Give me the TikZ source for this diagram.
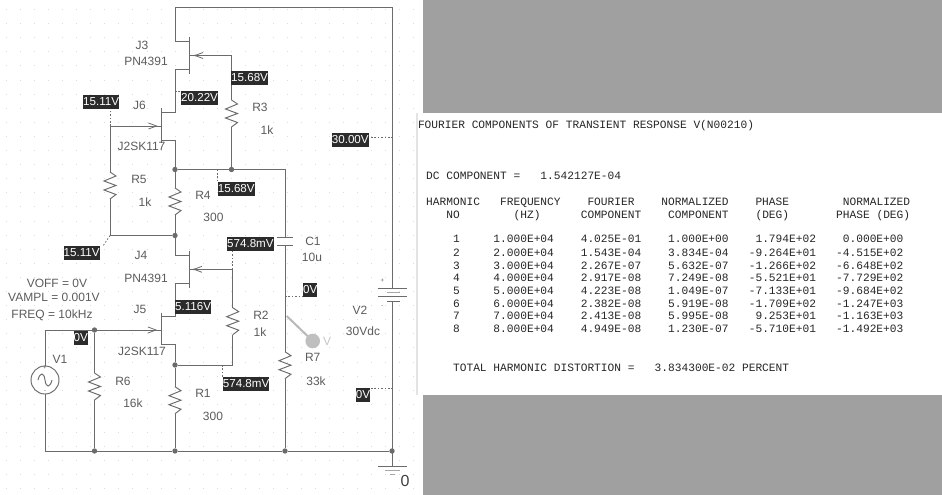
\documentclass[tikz,border=0pt]{standalone}
\usepackage{fontspec}
\setmainfont{Liberation Sans}
\newfontfamily\tblfont{Liberation Mono}
\definecolor{wirecol}{gray}{0.42}
\definecolor{txtcol}{gray}{0.36}
\definecolor{boxcol}{gray}{0.17}
\definecolor{panelcol}{RGB}{160,160,160}
\tikzset{
  wire/.style={draw=wirecol,line width=0.95pt},
  probeline/.style={draw=wirecol,line width=0.8pt,dash pattern=on 1.6pt off 1.8pt},
  lab/.style={text=txtcol,font=\fontsize{12}{12}\selectfont,inner sep=0pt},
  volt/.style={fill=boxcol,text=white,font=\fontsize{11.6}{12}\selectfont,inner sep=0pt,
    minimum height=13.6pt,anchor=north west},
  junction/.style={circle,fill=wirecol,inner sep=0pt,minimum size=5.4pt},
  tbl/.style={font=\tblfont\fontsize{11.2}{12}\selectfont,text=black!85,inner sep=0pt,anchor=base west},
  res/.pic={\draw[wire] (0,0)--(6,4)--(-6,9)--(6,13.5)--(-6,18)--(6,22.5)--(0,27);},
  gateR/.pic={\draw[wire,line width=0.8pt] (-8,-3)--(0,0)--(-8,3);},
  gateL/.pic={\draw[wire,line width=0.8pt] (8,-3)--(0,0)--(8,3);\fill[wirecol] (0,0) circle (1pt);}
}
\begin{document}
\begin{tikzpicture}[x=1pt,y=-1pt]
\useasboundingbox (0,0) rectangle (942,495);
\fill[white] (0,0) rectangle (942,495);
% panels
\fill[panelcol] (423,0) rectangle (942,113);
\fill[panelcol] (423,395) rectangle (942,495);
\draw[gray!22,line width=1.2pt] (417,113)--(417,395);
% grid dots
\foreach \i in {0,...,29}{\foreach \j in {0,...,34}{
  \fill[gray!28] ({6+14.05*\i},{9+14.1*\j}) rectangle +(1,1);
}}
% coordinates
\coordinate (topL) at (175,7.5);
\coordinate (topR) at (392,7.5);
\coordinate (j3d) at (175,41);
\coordinate (j3dg) at (189,41);
\coordinate (j3s) at (175,69.5);
\coordinate (j3sg) at (189,69.5);
\coordinate (j3g) at (189,55.5);
\coordinate (j3t) at (189,37);
\coordinate (j3b) at (189,74);
\coordinate (j6d) at (175,112);
\coordinate (j6dg) at (161,112);
\coordinate (j6s) at (175,140);
\coordinate (j6sg) at (161,140);
\coordinate (j6g) at (161,126);
\coordinate (j6t) at (161,108);
\coordinate (j6b) at (161,143);
\coordinate (gn6) at (110,126);
\coordinate (r3t) at (231.5,55.5);
\coordinate (r3a) at (231.5,100);
\coordinate (r3b) at (231.5,127);
\coordinate (c1in) at (285,169.5);
\coordinate (r4a) at (175,188);
\coordinate (r4b) at (175,215);
\coordinate (r5a) at (110,172);
\coordinate (r5b) at (110,199);
\coordinate (r5e) at (110,235.5);
\coordinate (j4d) at (175,255.7);
\coordinate (j4dg) at (189,255.7);
\coordinate (j4s) at (175,283);
\coordinate (j4sg) at (189,283);
\coordinate (j4g) at (189,269.3);
\coordinate (j4t) at (189,250.7);
\coordinate (j4b) at (189,288);
\coordinate (r2t) at (232.7,269.3);
\coordinate (r2a) at (232.7,307.7);
\coordinate (r2b) at (232.7,335);
\coordinate (r2e) at (232.7,365);
\coordinate (j5d) at (175,316);
\coordinate (j5dg) at (161,316);
\coordinate (j5s) at (175,344.3);
\coordinate (j5sg) at (161,344.3);
\coordinate (j5g) at (161,330);
\coordinate (j5t) at (161,312.7);
\coordinate (j5b) at (161,345);
\coordinate (r1a) at (175,386.7);
\coordinate (r1b) at (175,413.7);
\coordinate (r6a) at (94.5,373);
\coordinate (r6b) at (94.5,400);
\coordinate (v1t) at (45,330);
\coordinate (v1b) at (45,451);
\coordinate (c1a) at (285,237.3);
\coordinate (c1b) at (285,245.3);
\coordinate (r7a) at (285,351.7);
\coordinate (r7b) at (285,378.7);
\coordinate (bt) at (392,288.3);
\coordinate (bb) at (392,301.7);
\coordinate (gnd) at (392,466);
\coordinate (pinS) at (286.7,316);
% junctions
\node[junction] (n1) at (175,169.5) {};
\node[junction] (n2) at (231.5,169.5) {};
\node[junction] (n3) at (175,235.5) {};
\node[junction] (n4) at (94.5,330) {};
\node[junction] (n5) at (175,365) {};
\node[junction] (n6) at (94.5,451) {};
\node[junction] (n7) at (175,451) {};
\node[junction] (n8) at (285,451) {};
\node[junction] (n9) at (392,451) {};
% wires
\draw[wire] (j3d)--(topL)--(topR)--(bt);
\draw[wire] (j3d)--(j3dg) (j3t)--(j3b) (j3s)--(j3sg);
\draw[wire] (j3s)--(j6d)--(j6dg) (j6t)--(j6b) (j6sg)--(j6s)--(n1);
\draw[wire] (j3g)--(r3t)--(r3a) (r3b)--(n2);
\draw[wire] (n1)--(n2)--(c1in)--(c1a);
\draw[wire] (gn6)--(j6g);
\draw[wire] (gn6)--(r5a) (r5b)--(r5e)--(n3);
\draw[wire] (n1)--(r4a) (r4b)--(n3)--(j4d)--(j4dg);
\draw[wire] (j4t)--(j4b) (j4sg)--(j4s)--(j5d)--(j5dg);
\draw[wire] (j4g)--(r2t)--(r2a) (r2b)--(r2e)--(n5);
\draw[wire] (j5t)--(j5b) (j5sg)--(j5s)--(n5)--(r1a) (r1b)--(n7);
\draw[wire] (v1b)--(v1t)--(n4)--(j5g);
\draw[wire] (n4)--(r6a) (r6b)--(n6);
\draw[wire] (v1b)--(n6)--(n7)--(n8)--(n9);
\draw[wire] (c1b)--(r7a) (r7b)--(n8);
\draw[wire] (bb)--(gnd);
% resistors
\pic at (r3a) {res}; \pic at (r4a) {res}; \pic at (r5a) {res};
\pic at (r2a) {res}; \pic at (r1a) {res}; \pic at (r6a) {res}; \pic at (r7a) {res};
% gate arrows
\pic at (195,55.5) {gateL}; \pic at (194,269.3) {gateL};
\pic at (156.5,126) {gateR}; \pic at (156,330) {gateR};
% capacitor
\draw[wire] (277.3,237.3)--(292.7,237.3) (277.3,245.3)--(292.7,245.3);
% battery
\draw[wire] (377.7,288.3)--(407.3,288.3) (378,296.7)--(407.3,296.7) (387,301.7)--(400,301.7);
\draw[draw=gray!70,line width=1pt] (386.7,292.5)--(400,292.5);
% ground
\draw[wire] (378,466)--(407,466);
\draw[draw=gray!70,line width=1pt] (385,470)--(400,470) (390,474)--(395,474);
% V1 source
\node[circle,draw=wirecol,line width=0.95pt,fill=white,minimum size=28pt,inner sep=0pt] (v1) at (45,380) {};
\draw[wire] (38,380) .. controls (40,372) and (44,372) .. (45,380) .. controls (46,388) and (50,388) .. (52,380);
% voltage probe pin
\draw[draw=gray!55,line width=2pt] (pinS)--(312.7,341);
\node[circle,fill=gray!50,inner sep=0pt,minimum size=14.6pt] (pinH) at (312.7,341) {};
\node[lab,text=gray!45] (pinV) at (327,341) {V};
% probe leaders
\draw[probeline] (gn6)--(110,108);
\draw[probeline] (175,91)--(181,91);
\draw[probeline] (217.7,169.5)--(217.7,182);
\draw[probeline] (r5e)--(103,246);
\draw[probeline] (r2t)--(232.7,251);
\draw[probeline] (222.7,365)--(222.7,377);
\draw[probeline] (285,296.5)--(303,296.5);
\draw[probeline] (371,137.3)--(392,137.3);
\draw[probeline] (371,388)--(392,388);
% voltage labels
\node[volt] (v15a) at (83,95) {15.11V};
\node[volt] (v20) at (181,91) {20.22V};
\node[volt] (v15b) at (231,71) {15.68V};
\node[volt] (v15c) at (217.7,181.7) {15.68V};
\node[volt] (v15d) at (63.5,246) {15.11V};
\node[volt] (v574a) at (227,237) {574.8mV};
\node[volt] (v5) at (175,300) {5.116V};
\node[volt] (v0a) at (73.5,330.7) {0V};
\node[volt] (v574b) at (222.7,376.9) {574.8mV};
\node[volt] (v0b) at (303,283) {0V};
\node[volt] (v30) at (331.7,132.9) {30.00V};
\node[volt] (v0c) at (355.7,388) {0V};
% component labels
\node[lab] (l1) at (142,45) {J3};
\node[lab] (l2) at (146,61) {PN4391};
\node[lab] (l3) at (139.5,105) {J6};
\node[lab] (l4) at (141.5,146) {J2SK117};
\node[lab] (l5) at (260,107) {R3};
\node[lab] (l6) at (267,130) {1k};
\node[lab] (l7) at (139,179) {R5};
\node[lab] (l8) at (145,202) {1k};
\node[lab] (l9) at (203,195) {R4};
\node[lab] (l10) at (213.5,217) {300};
\node[lab] (l11) at (141,255) {J4};
\node[lab] (l12) at (146,278) {PN4391};
\node[lab] (l13) at (140,309) {J5};
\node[lab] (l14) at (142,351) {J2SK117};
\node[lab] (l15) at (57,283.5) {VOFF = 0V};
\node[lab] (l16) at (54,297.5) {VAMPL = 0.001V};
\node[lab] (l17) at (52,315) {FREQ = 10kHz};
\node[lab] (l18) at (60,359) {V1};
\node[lab] (l19) at (123,381) {R6};
\node[lab] (l20) at (133,403.5) {16k};
\node[lab] (l21) at (203,393) {R1};
\node[lab] (l22) at (213,416.5) {300};
\node[lab] (l23) at (261,315) {R2};
\node[lab] (l24) at (260,332) {1k};
\node[lab] (l25) at (313,241) {C1};
\node[lab] (l26) at (312,257) {10u};
\node[lab] (l27) at (312.7,357) {R7};
\node[lab] (l28) at (316,381.7) {33k};
\node[lab] (l29) at (360,310.7) {V2};
\node[lab] (l30) at (363,331.7) {30Vdc};
\node[lab,font=\fontsize{6}{6}\selectfont] (l31) at (45,367.5) {+};
\node[lab,font=\fontsize{6}{6}\selectfont] (l35) at (45,392) {-};
\node[lab,font=\fontsize{6}{6}\selectfont] (l32) at (382.3,281) {+};
\node[lab,font=\fontsize{6}{6}\selectfont] (l33) at (382.3,307) {-};
\node[lab,font=\fontsize{16}{16}\selectfont,text=black!75] (l34) at (405,481) {0};
% table
\def\Tx{419.3}
\node[tbl] (t0) at (\Tx-1.5,128.6) {FOURIER COMPONENTS OF TRANSIENT RESPONSE V(N00210)};
\node[tbl] (t1) at (\Tx,179.6) {~DC COMPONENT =~~~1.542127E-04};
\node[tbl] (t2) at (\Tx,205.2) {~HARMONIC~~~FREQUENCY~~~~FOURIER~~~~NORMALIZED~~~~PHASE~~~~~~~~NORMALIZED};
\node[tbl] (t3) at (\Tx,218.6) {~~~~NO~~~~~~~~(HZ)~~~~~~COMPONENT~~~~COMPONENT~~~~(DEG)~~~~~~~PHASE~(DEG)};
\node[tbl] (r1) at (\Tx,242.9) {~~~~~1~~~~~1.000E+04~~~~4.025E-01~~~~1.000E+00~~~~1.794E+02~~~~0.000E+00};
\node[tbl] (r2) at (\Tx,256.1) {~~~~~2~~~~~2.000E+04~~~~1.543E-04~~~~3.834E-04~~~-9.264E+01~~~-4.515E+02};
\node[tbl] (r3) at (\Tx,269.1) {~~~~~3~~~~~3.000E+04~~~~2.267E-07~~~~5.632E-07~~~-1.266E+02~~~-6.648E+02};
\node[tbl] (r4) at (\Tx,281.9) {~~~~~4~~~~~4.000E+04~~~~2.917E-08~~~~7.249E-08~~~-5.521E+01~~~-7.729E+02};
\node[tbl] (r5) at (\Tx,294.6) {~~~~~5~~~~~5.000E+04~~~~4.223E-08~~~~1.049E-07~~~-7.133E+01~~~-9.684E+02};
\node[tbl] (r6) at (\Tx,307.3) {~~~~~6~~~~~6.000E+04~~~~2.382E-08~~~~5.919E-08~~~-1.709E+02~~~-1.247E+03};
\node[tbl] (r7) at (\Tx,319.9) {~~~~~7~~~~~7.000E+04~~~~2.413E-08~~~~5.995E-08~~~~9.253E+01~~~-1.163E+03};
\node[tbl] (r8) at (\Tx,332.6) {~~~~~8~~~~~8.000E+04~~~~4.949E-08~~~~1.230E-07~~~-5.710E+01~~~-1.492E+03};
\node[tbl] (t4) at (\Tx,371.9) {~~~~~TOTAL HARMONIC DISTORTION =~~~3.834300E-02 PERCENT};
\end{tikzpicture}
\end{document}
